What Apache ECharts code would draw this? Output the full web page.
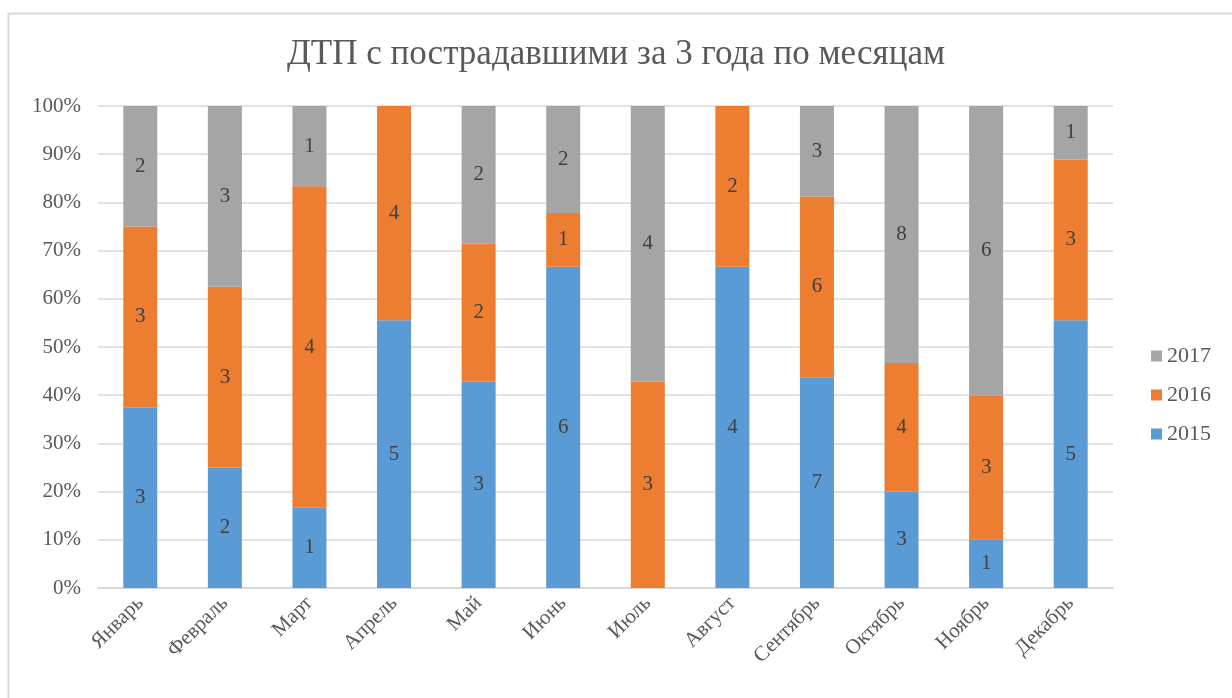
<!DOCTYPE html>
<html>
<head>
<meta charset="utf-8">
<script src="https://cdn.jsdelivr.net/npm/echarts@6/dist/echarts.min.js"></script>
<style>
  html, body { margin: 0; padding: 0; background: #fff; }
  #main { width: 1232px; height: 698px; }
</style>
</head>
<body>
<div id="main"></div>
<script>
var months = ['Январь', 'Февраль', 'Март', 'Апрель', 'Май', 'Июнь', 'Июль', 'Август', 'Сентябрь', 'Октябрь', 'Ноябрь', 'Декабрь'];
var y2015 = [3, 2, 1, 5, 3, 6, 0, 4, 7, 3, 1, 5];
var y2016 = [3, 3, 4, 4, 2, 1, 3, 2, 6, 4, 3, 3];
var y2017 = [2, 3, 1, 0, 2, 2, 4, 0, 3, 8, 6, 1];

var font = '"Liberation Serif", "DejaVu Serif", serif';

// доля от суммы за месяц, в процентах
function share(arr, i) {
    var total = y2015[i] + y2016[i] + y2017[i];
    return total ? arr[i] / total * 100 : 0;
}

function makeSeries(name, arr, color) {
    return {
        name: name,
        type: 'bar',
        stack: 'all',
        barWidth: 34,
        itemStyle: { color: color },
        label: {
            show: true,
            position: 'inside',
            fontFamily: font,
            fontSize: 21,
            color: '#404040',
            formatter: function (p) {
                var v = arr[p.dataIndex];
                return v ? String(v) : '';
            }
        },
        data: arr.map(function (v, i) { return share(arr, i); })
    };
}

var chart = echarts.init(document.getElementById('main'));
chart.setOption({
    animation: false,
    title: {
        text: 'ДТП с пострадавшими за 3 года по месяцам',
        left: 'center',
        top: 32,
        padding: [5, 5, 5, 21],
        textStyle: { fontFamily: font, fontSize: 35, fontWeight: 'normal', color: '#595959' }
    },
    graphic: [{
        type: 'rect',
        shape: { x: 8.5, y: 13.5, width: 1240, height: 700 },
        style: { fill: 'none', stroke: '#d9d9d9', lineWidth: 2 },
        silent: true
    }],
    legend: {
        orient: 'vertical',
        right: 16,
        top: 340,
        itemGap: 17,
        itemWidth: 11,
        itemHeight: 11,
        icon: 'rect',
        data: ['2017', '2016', '2015'],
        textStyle: { fontFamily: font, fontSize: 22, color: '#595959' }
    },
    grid: { left: 98, right: 119, top: 106, bottom: 110 },
    xAxis: {
        type: 'category',
        data: months,
        axisTick: { show: false },
        axisLine: { lineStyle: { color: '#d9d9d9', width: 2 } },
        axisLabel: {
            rotate: 45,
            interval: 0,
            margin: 12,
            fontFamily: font,
            fontSize: 21,
            color: '#595959'
        }
    },
    yAxis: {
        type: 'value',
        min: 0,
        max: 100,
        interval: 10,
        axisLine: { show: false },
        axisTick: { show: false },
        splitLine: { lineStyle: { color: '#d9d9d9', width: 1.5 } },
        axisLabel: {
            formatter: '{value}%',
            margin: 17,
            fontFamily: font,
            fontSize: 21,
            color: '#595959'
        }
    },
    series: [
        makeSeries('2015', y2015, '#5b9bd5'),
        makeSeries('2016', y2016, '#ed7d31'),
        makeSeries('2017', y2017, '#a5a5a5')
    ]
});
</script>
</body>
</html>
